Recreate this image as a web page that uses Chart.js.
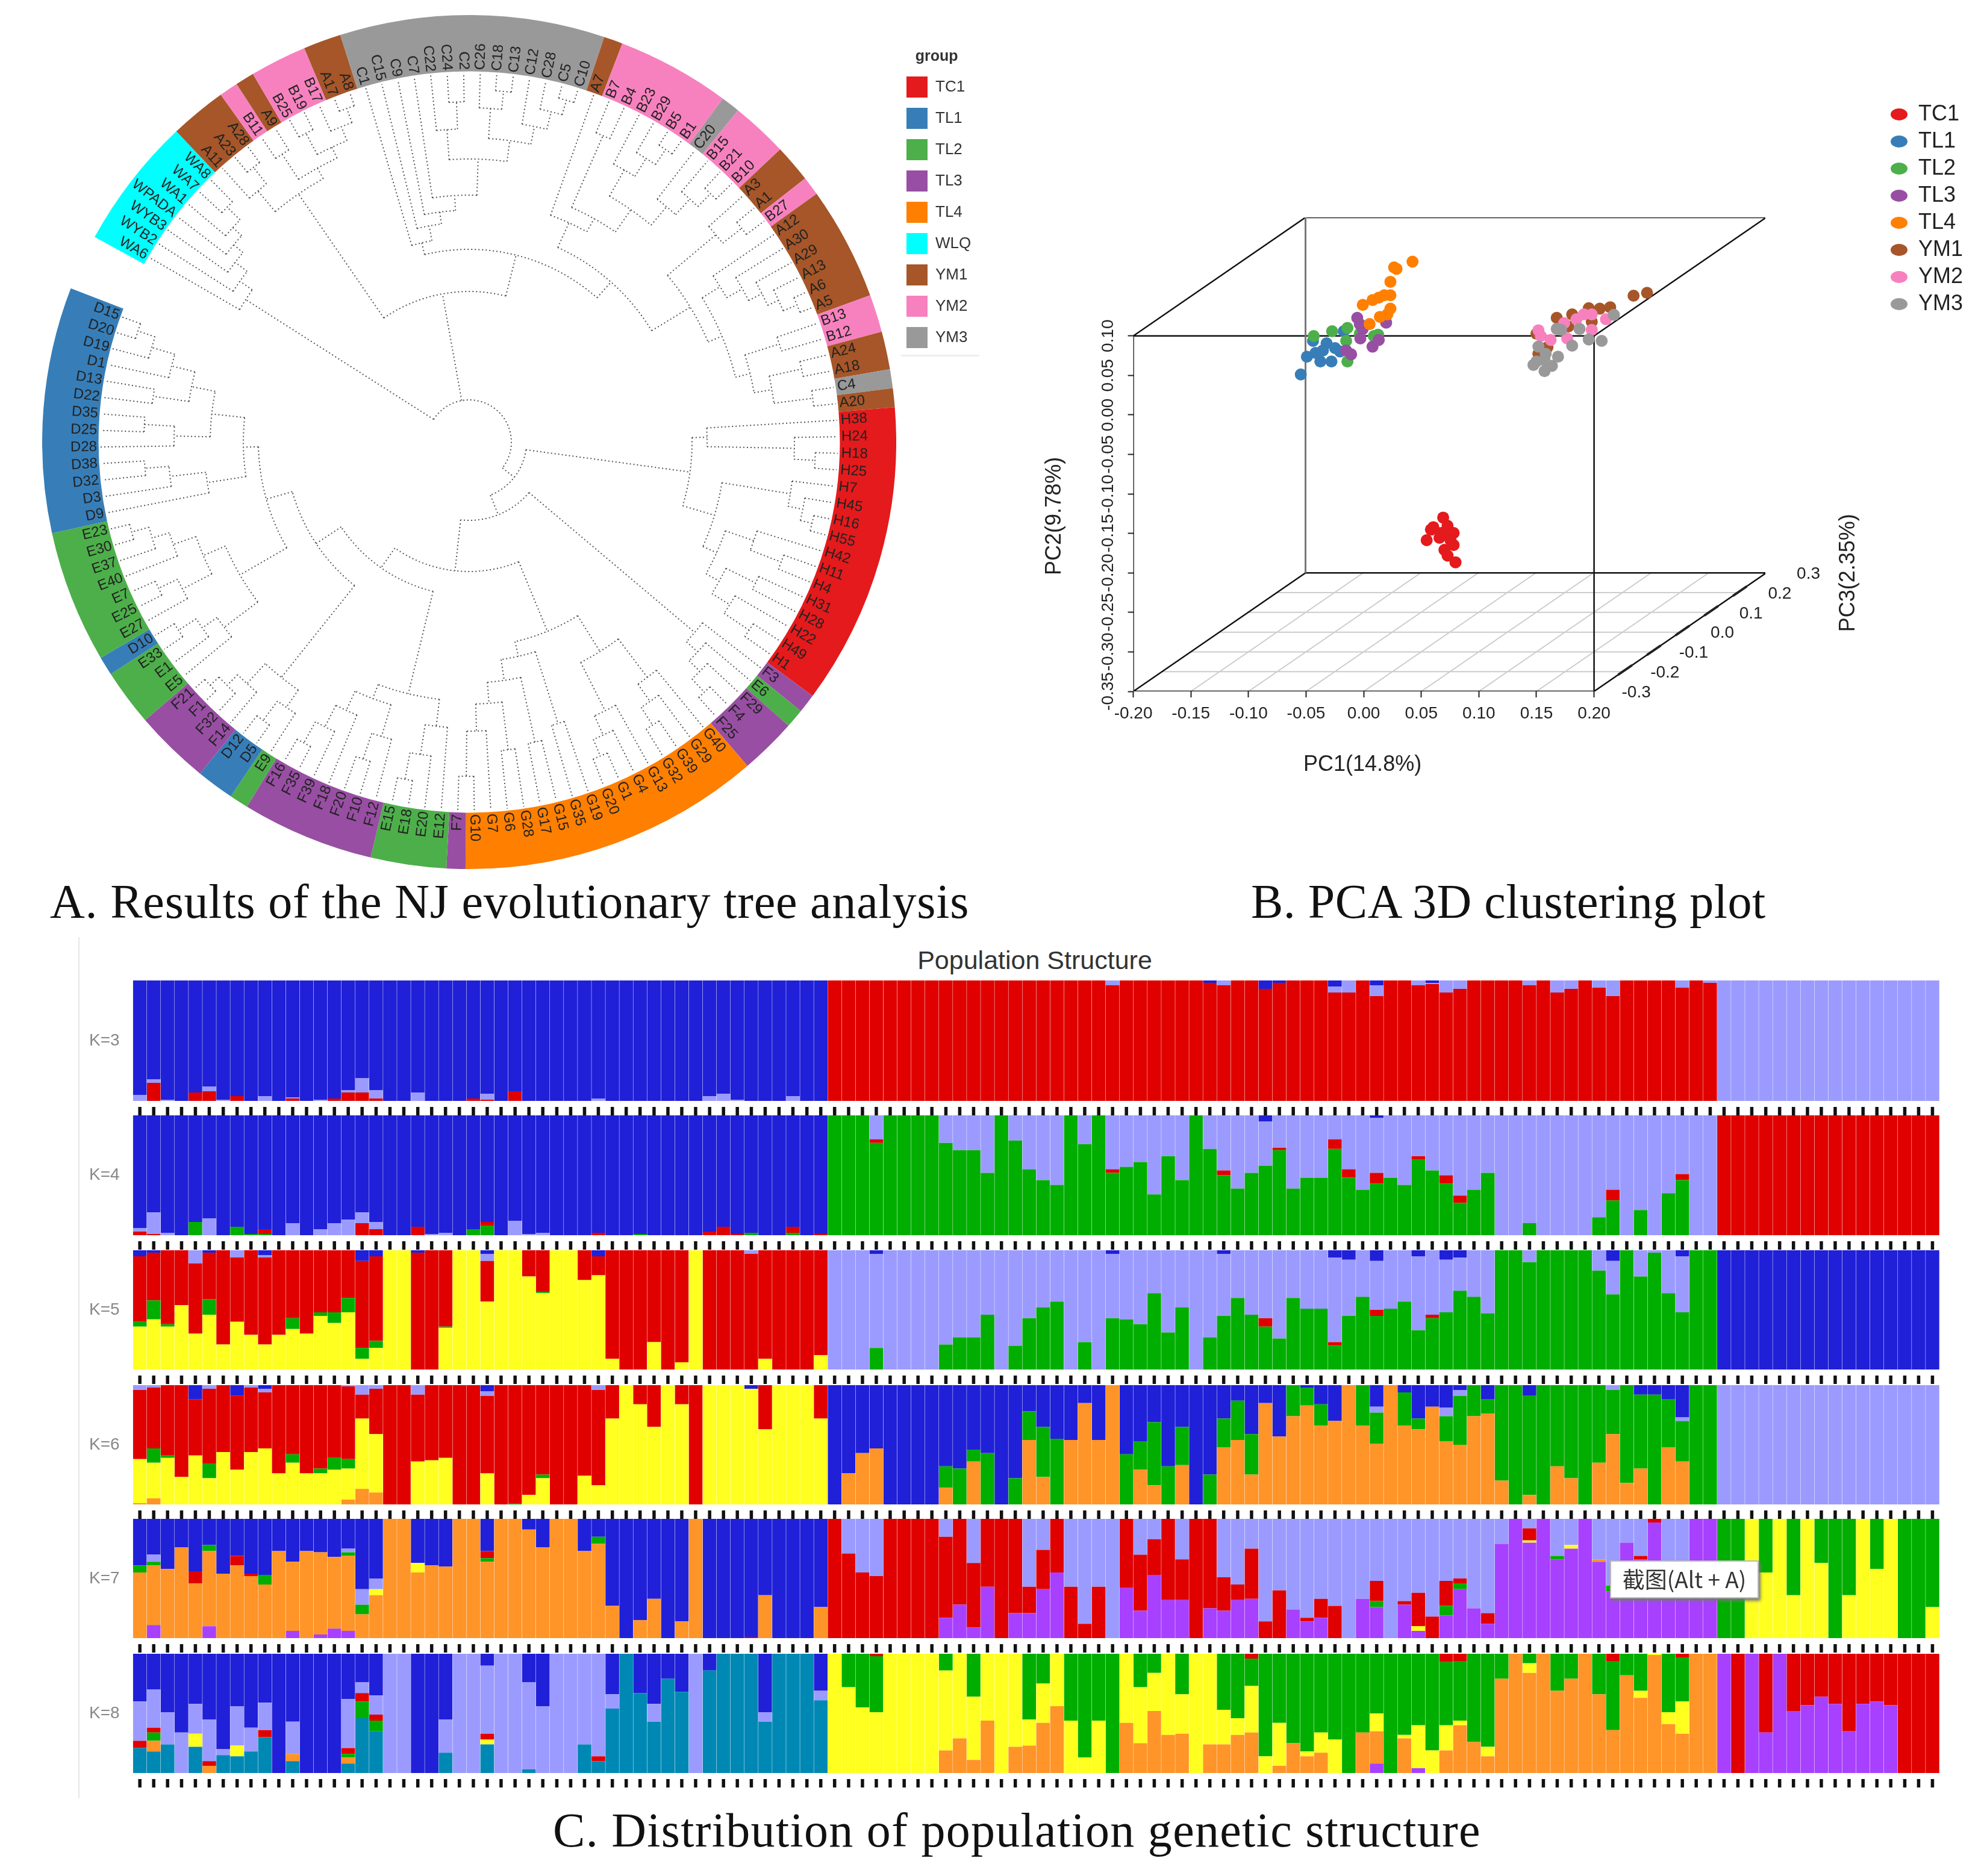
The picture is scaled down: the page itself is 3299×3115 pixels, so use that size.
<!DOCTYPE html>
<html lang="en">
<head>
<meta charset="UTF-8">
<title>NJ tree, PCA and population structure</title>
<script src="https://cdn.jsdelivr.net/npm/chart.js"></script>
<style>
    body { margin: 0; background: #fff; }
    #page { position: relative; width: 3299px; height: 3115px; overflow: hidden; background: #fff; }
    canvas { position: absolute; }
    .cap { position: absolute; font-family: "Liberation Serif", serif; font-size: 80px; color: #111; white-space: nowrap; line-height: 80px; }
    #structTitle { position: absolute; left: 1518px; top: 1570px; width: 400px; text-align: center; font: 43px "Liberation Sans", sans-serif; color: #333; white-space: nowrap; }
    #leftRule { position: absolute; left: 130px; top: 1556px; width: 2px; height: 1430px; background: #e6e6e6; }
    #legendRule { position: absolute; left: 1496px; top: 589px; width: 130px; height: 3px; background: #eee; }
    #shot { position: absolute; left: 2673px; top: 2591px; width: 247px; height: 63px; box-sizing: border-box; background: #fff; border: 2px solid #bbb; box-shadow: 3px 4px 5px #777; font: 37px "Noto Sans CJK SC", sans-serif; color: #333; text-align: center; line-height: 56px; white-space: nowrap; }
</style>
</head>
<body>
<div id="page">
    <div class="cap" style="left:83px;top:1457px;letter-spacing:.8px">A. Results of the NJ evolutionary tree analysis</div>
    <div class="cap" style="left:2077px;top:1457px;letter-spacing:.5px">B. PCA 3D clustering plot</div>
    <div class="cap" style="left:918px;top:2999px;letter-spacing:1.3px">C. Distribution of population genetic structure</div>
    <div id="structTitle">Population Structure</div>
    <div id="leftRule"></div>
    <div id="legendRule"></div>
</div>
<script>
const z = n => Array(n).fill(0);

// ---------- A: NJ tree ----------
const groupNames = ['TC1', 'TL1', 'TL2', 'TL3', 'TL4', 'WLQ', 'YM1', 'YM2', 'YM3'];
const groupColors = ['#E41A1C', '#377EB8', '#4DAF4A', '#984EA3', '#FF7F00', '#00FFFF', '#A65628', '#F781BF', '#999999'];

// tips clockwise, starting after the gap
const tipLabels = ['WA6','WYB2','WYB3','WPADA','WA1','WA7','WA8','A11','A23','A28','B11','A9','B25','B19','B17','A17','A8',
    'C1','C15','C9','C7','C22','C24','C2','C26','C18','C13','C12','C28','C5','C10','A7','B7','B4','B23','B29','B5','B1','C20',
    'B15','B21','B10','A3','A1','B27','A12','A30','A29','A13','A6','A5','B13','B12','A24','A18','C4','A20',
    'H38','H24','H18','H25','H7','H45','H16','H55','H42','H11','H4','H31','H28','H22','H49','H1','F3','E6','F29','F4','F25',
    'G40','G29','G39','G32','G13','G4','G1','G20','G19','G35','G15','G17','G28','G6','G7','G10','F7','E12','E20','E18','E15',
    'F12','F10','F20','F18','F39','F35','F16','E9','D5','D12','F14','F32','F1','F21','E5','E1','E33','D10','E27','E25','E7',
    'E40','E37','E30','E23','D9','D3','D32','D38','D28','D25','D35','D22','D13','D1','D19','D20','D15'];
const tipGroups = ['WLQ','WLQ','WLQ','WLQ','WLQ','WLQ','WLQ','YM1','YM1','YM1','YM2','YM1','YM2','YM2','YM2','YM1','YM1',
    ...Array(14).fill('YM3'),'YM1',...Array(6).fill('YM2'),'YM3','YM2','YM2','YM2','YM1','YM1','YM2',...Array(6).fill('YM1'),
    'YM2','YM2','YM1','YM1','YM3','YM1',...Array(16).fill('TC1'),'TL3','TL2','TL3','TL3','TL3',...Array(16).fill('TL4'),
    'TL3','TL2','TL2','TL2','TL2',...Array(7).fill('TL3'),'TL2','TL1','TL1','TL3','TL3','TL3','TL3','TL2','TL2','TL2','TL1',
    ...Array(7).fill('TL2'),...Array(13).fill('TL1')];

// clades: first tip, last tip, branch radius
const treeClades = [[0,136,70],[0,6,440],[1,6,465],[2,6,490],[3,6,510],[4,6,530],[5,6,560],
    [7,56,250],[7,16,500],[7,9,545],[8,9,580],[10,16,520],[10,11,570],[12,16,540],[12,13,580],[14,16,565],[15,16,590],
    [17,56,320],[17,30,340],[18,30,365],[19,30,385],[20,30,410],[21,30,470],[21,23,520],[22,23,565],[24,30,505],[24,26,555],[25,26,585],[27,30,535],[28,30,565],[29,30,590],
    [31,56,355],[31,41,400],[32,41,425],[32,33,555],[34,41,470],[34,37,520],[35,37,555],[36,37,585],[38,41,510],[39,41,545],[40,41,575],
    [42,56,430],[42,44,535],[43,44,575],[45,56,455],[45,50,490],[46,50,520],[47,50,545],[48,50,565],[49,50,590],[51,56,480],[51,52,540],[53,56,510],[53,54,565],[55,56,575],
    [57,136,95],[57,72,370],[57,60,395],[58,60,540],[59,60,575],[61,72,425],[61,64,540],[62,64,565],[63,64,585],[65,72,450],[65,67,500],[66,67,555],[68,72,475],[68,69,530],[70,72,510],[71,72,560],
    [73,136,130],[73,77,490],[74,77,515],[75,77,540],[76,77,570],
    [78,136,215],[78,94,340],[78,85,410],[78,81,490],[79,81,525],[80,81,560],[82,85,500],[83,85,535],[84,85,565],[86,94,365],[86,87,490],[88,94,400],[88,89,510],[90,94,435],[90,91,515],[92,94,480],[93,94,555],
    [95,136,255],[95,105,430],[95,98,475],[96,98,525],[97,98,570],[99,105,455],[99,101,510],[100,101,555],[102,105,490],[103,105,530],[104,105,570],
    [106,136,305],[106,112,500],[106,108,535],[107,108,575],[109,112,545],[110,112,570],[111,112,590],
    [113,136,350],[113,123,440],[113,116,510],[114,116,540],[115,116,575],[117,123,480],[117,119,535],[118,119,570],[120,123,520],[121,123,550],[122,123,580],
    [124,136,375],[124,127,440],[125,127,500],[126,127,540],[128,136,430],[128,130,490],[129,130,540],[131,136,470],[131,132,530],[133,136,510],[134,136,550],[135,136,580]];

// ---------- B: PCA, values as plotted on the front face of the box ----------
const pcaNames = ['TC1', 'TL1', 'TL2', 'TL3', 'TL4', 'YM1', 'YM2', 'YM3'];
const pcaColors = ['#E41A1C', '#377EB8', '#4DAF4A', '#984EA3', '#FF7F00', '#A65628', '#F781BF', '#999999'];
const tc1X = [.069,.0605,.0584,.0728,.0781,.0547,.0658,.0728,.0781,.0701,.0728,.0797,.0754,.0674];
const tc1Y = [-.130,-.1422,-.1452,-.1404,-.1495,-.1586,-.1556,-.1525,-.1647,-.1708,-.1781,-.1866,-.1586,-.1495];
const tl1X = [-.0546,-.0493,-.044,-.0354,-.0376,-.028,-.0322,-.0248,-.0205,-.0173,-.0418];
const tl1Y = [.0512,.0737,.0937,.0816,.0676,.0676,.0907,.0846,.0803,.1059,.0785];
const tl2X = [-.0434,-.0274,-.0141,-.0152,.0088,.0125,-.0141,-.0034];
const tl2Y = [.0998,.1059,.1101,.0937,.0998,.1016,.0676,.1028];
const tl3X = [-.0056,-.0034,-.0008,-.0029,.0195,.0077,.0131,-.0109,-.0152];
const tl3Y = [.1229,.115,.1089,.0968,.1168,.0864,.0949,.0767,.0816];
const tl4X = [.0424,.0264,.0285,.0232,.0232,.0179,.0131,.0077,-.0008,.0232,.0205,.0141,.0051];
const tl4Y = [.194,.1867,.1849,.1685,.1515,.1515,.1484,.1454,.1393,.1345,.1272,.1241,.115];
const ym1X = [.246,.2343,.214,.205,.1954,.181,.1676,.1778,.198,.15,.1596,.1517];
const ym1Y = [.1545,.1509,.1363,.1345,.1351,.1272,.1229,.112,.118,.1028,.0858,.0773];
const ym2X = [.1517,.1538,.1623,.174,.1767,.1847,.1911,.198,.198,.2103];
const ym2Y = [.1071,.0998,.0949,.1162,.0968,.1211,.1272,.1272,.1077,.1211];
const ym3X = [.2172,.2066,.1954,.181,.1874,.1714,.1676,.1517,.158,.1687,.1474,.157,.1634,.157,.15];
const ym3Y = [.1266,.0937,.0955,.0876,.1089,.1077,.1089,.0864,.0773,.0737,.0633,.0694,.0621,.0554,.0676];
const pc1Ticks = [-.2,-.15,-.1,-.05,0,.05,.1,.15,.2];
const pc3Ticks = [-.3,-.2,-.1,0,.1,.2,.3];

// ---------- C: structure, percent of each bar; the empty part of a bar goes to the group's main colour ----------
const groupSizes = [50, 64, 16];
const barLabels = Array(130).fill('|');
const blue = '#2020D8', red = '#E00000', light = '#9B9BFF', green = '#00AE00', yellow = '#FFFF20', orange = '#FF9428', purple = '#A840FF', teal = '#0088B4';

const k3Red = [0,15,0,0,7,8,0,4,0,0,0,2,0,0,2,7,7,2,0,0,0,0,0,0,2,1,0,8];
const k3Light = [5,3,1,0,0,4,1,0,0,4,0,1,0,1,0,2,12,7,0,0,7,0,0,0,0,5,...z(7),2,...z(7),4,6,1,0,0,0,4,0,0,
    ...z(20),4,...z(7),4,...z(7),5,10,0,9,0,0,4,1,10,7,...z(4),4,0,10,7,0,6,13,...z(4),6,0,2];
const k3Blue = [...z(50),...z(27),2,...z(3),7,2,...z(3),5,0,0,4,0,0,0,2];

const k4Green = [...z(4),11,0,0,7,1,1,...z(14),5,8,...z(10),1,...z(7),2,0,0,2,0,0,
    100,100,100,77,100,100,100,100,77,71,
    71,52,100,79,55,46,42,100,76,100,
    52,57,61,34,66,46,100,72,50,39,
    52,58,71,39,48,48,72,48,38,43,
    48,42,63,54,43,27,38,52,0,0,
    10,0,0,0,0,15,29,0,21,0,35,46,0,0];
const k4Red = [3,1,...z(7),4,...z(6),10,5,0,0,7,...z(4),3,...z(7),2,...z(7),3,7,1,0,0,0,5,0,1,
    ...z(3),3,...z(16),3,...z(7),4,...z(3),2,...z(3),8,7,0,9,0,0,3,0,7,6,...z(10),9,...z(4),5];
const k4Light = [3,18,2,0,0,14,...z(5),10,0,5,10,13,9,6,...z(3),1,2,...z(4),12,1,2];
const k4Blue = [...z(50),...z(31),5,...z(7),2];

const k5Yellow = [36,42,36,54,30,46,21,40,29,21,
    29,34,30,45,39,48,9,18,100,100,
    0,0,35,100,100,57,100,100,78,64,
    100,100,75,79,9,0,0,23,0,6,
    100,0,0,0,0,9,0,0,0,12];
const k5Green = [4,16,2,0,0,13,...z(5),9,0,3,9,12,9,6,...z(4),1,...z(6),1,...z(20),
    0,0,0,18,0,0,0,0,21,27,
    27,46,0,20,43,52,57,0,23,0,
    43,42,38,64,31,52,0,27,45,60,
    46,36,26,60,51,51,20,45,61,45,
    51,57,33,43,48,66,61,47,100,100,
    90,100,100,100,100,83,63,100,78,98,64,48,100,100];
const k5Red = [...z(50),...z(31),7,...z(4),3,0,0,5,...z(3),3];
const k5Light = [...z(4),11,0,0,6,0,2,...z(15),6,...z(18),3];
const k5Blue = [5,2,0,0,0,2,0,0,0,4,...z(6),9,5,0,0,2,...z(4),3,...z(7),5,...z(16),
    ...z(3),3,...z(16),3,...z(7),3,...z(7),6,8,0,9,0,0,5,0,8,6,...z(10),9,...z(4),5];

const k6Orange = [1,5,...z(13),4,13,10,...z(32),
    0,26,43,47,0,0,0,0,14,0,
    36,0,0,0,54,23,0,54,85,54,
    100,0,29,16,0,33,0,0,48,54,
    25,85,57,74,83,66,70,100,66,51,
    100,66,63,82,53,50,74,76,20,0,
    8,0,32,22,0,35,59,18,30,0,48,36,0,0];
const k6Yellow = [37,30,39,23,41,22,44,29,44,47,
    26,35,26,26,29,26,59,49,0,0,
    36,37,39,0,0,26,0,0,8,22,
    0,0,24,16,72,100,84,65,100,84,
    0,100,100,100,97,63,100,100,100,72];
const k6Green = [0,12,2,0,0,12,...z(5),7,0,4,10,8,...z(11),1,0,3,...z(20),
    ...z(8),18,30,
    10,43,0,22,24,42,55,0,0,0,
    0,42,24,53,32,32,0,25,24,33,
    34,0,0,26,15,18,0,0,34,26,
    0,28,9,0,21,41,26,12,80,100,
    83,100,68,78,100,65,37,82,62,92,40,34,100,100];
const k6Red = [];
const k6Light = [4,2,0,0,0,3,0,0,2,3,...z(5),1,8,3,0,0,8,...z(4),4,...z(7),4,...z(16),
    ...z(39),5,...z(4),7,5,...z(10),4,...z(4),3];
const k6Blue = [...z(4),12,0,0,9,0,3,...z(15),5,...z(18),3];

const k7Purple = [0,11,0,0,0,10,...z(5),6,0,3,8,6,...z(34),
    ...z(8),17,28,
    9,43,0,21,21,41,55,0,0,0,
    0,42,23,53,32,32,0,25,23,32,
    33,0,0,24,14,17,0,0,33,26,
    0,28,6,0,19,41,25,12,79,100,
    80,100,66,75,100,64,39,80,66,97,60,60,100,100];
const k7Orange = [55,50,58,76,46,63,54,61,52,45,
    73,58,73,69,60,63,20,36,100,100,
    55,61,60,100,100,64,100,100,91,76,
    100,100,73,79,27,0,15,33,0,14,
    100,0,0,0,0,36,0,0,0,26,
    ...z(55),2];
const k7Yellow = [...z(17),5,0,0,8,...z(29),
    ...z(42),4,...z(7),2,0,0,3,...z(10),
    0,0,100,55,100,36,100,63,0,36,100,58,100,0,0,26];
const k7Green = [6,3,0,0,0,5,0,0,0,8,...z(5),3,8,...z(8),3,...z(7),6,...z(16),
    ...z(39),5,...z(4),8,5,...z(6),3,...z(3),5];
const k7Red = [...z(4),10,0,0,8,2,...z(16),6,...z(18),1,...z(5),
    100,71,55,52,100,100,100,100,68,72,
    54,57,100,79,22,33,45,43,12,43,
    0,58,47,30,68,34,100,75,28,13,
    42,14,40,0,3,16,27,0,0,17,
    0,3,28,18,21,4,0,9,0,0,
    10,0,0,0,0,0,0,0,3,3];
const k7Light = [0,6,...z(13),3,13,9];
const k7Blue = [];

const k8Teal = [21,18,24,0,22,0,15,14,18,30,
    0,10,0,0,0,8,46,35,0,0,
    0,0,17,0,0,24,0,0,3,0,
    0,0,24,10,54,100,67,43,79,68,
    0,86,100,100,100,43,100,100,100,61];
const k8Purple = [...z(50),...z(39),8,0,0,4,...z(21),
    100,0,100,34,100,52,57,64,58,35,58,60,57,0,0,0];
const k8Orange = [0,9,0,0,0,6,...z(5),6,...z(3),5,...z(34),
    ...z(8),19,29,
    11,44,0,22,23,42,56,0,0,0,
    0,42,25,52,32,33,0,24,24,32,
    34,0,6,25,14,17,0,0,34,27,
    0,29,0,0,19,40,26,14,79,100,
    84,100,69,79,100,66,36,82,63,99,41,33,100,100];
const k8Yellow = [...z(4),11,0,0,9,...z(17),4,...z(24),
    100,72,55,51,100,100,100,100,67,71,
    53,56,100,78,22,33,44,44,13,44,
    0,58,47,32,68,33,100,76,29,14,
    39,14,36,0,4,17,28,0,0,15,
    0,3,36,19,21,4,0,8,0,0,
    8,0,0,0,0,0,0,0,6,1,10,27,0,0];
const k8Green = [0,7,...z(13),3,14,9];
const k8Red = [6,4,0,0,0,4,0,0,0,6,...z(5),5,7,5,...z(7),5,...z(7),4,...z(16),
    ...z(3),2,...z(26),4,...z(13),7,6,...z(10),6,...z(4),3];
const k8Light = [33,32,27,34,25,35,5,33,20,23,
    0,27,0,0,0,41,9,16,100,100,
    0,0,28,100,100,57,100,100,73,56,
    100,100,76,86,12,0,0,15,0,0,
    100,0,0,0,0,8,0,0,0,8];
const k8Blue = [];

const kLabels = ['K=3', 'K=4', 'K=5', 'K=6', 'K=7', 'K=8'];
const kSeries = [
    [k3Red, k3Light, k3Blue],
    [k4Green, k4Red, k4Light, k4Blue],
    [k5Yellow, k5Green, k5Red, k5Light, k5Blue],
    [k6Orange, k6Yellow, k6Green, k6Red, k6Light, k6Blue],
    [k7Purple, k7Orange, k7Yellow, k7Green, k7Red, k7Light, k7Blue],
    [k8Teal, k8Purple, k8Orange, k8Yellow, k8Green, k8Red, k8Light, k8Blue]
];
const kColors = [
    [red, light, blue],
    [green, red, light, blue],
    [yellow, green, red, light, blue],
    [orange, yellow, green, red, light, blue],
    [purple, orange, yellow, green, red, light, blue],
    [teal, purple, orange, yellow, green, red, light, blue]
];
// index into kSeries of the colour that fills each of the three groups
const kFill = [[2, 0, 1], [3, 2, 1], [2, 3, 4], [3, 5, 4], [6, 5, 3], [7, 4, 5]];
const kTops = [1628, 1852, 2076, 2300, 2522, 2746];
const kBottoms = [1828, 2051, 2274, 2498, 2720, 2944];

// ---------- helpers ----------
Chart.defaults.animation = false;
Chart.defaults.responsive = false;
Chart.defaults.devicePixelRatio = 1;
Chart.defaults.font.family = '"Liberation Sans", sans-serif';
Chart.defaults.plugins.tooltip.enabled = false;
Chart.defaults.plugins.legend.display = false;
const page = document.getElementById('page');

function addCanvas(left, top, w, h) {
    const c = document.createElement('canvas');
    c.width = w; c.height = h;
    c.style.left = left + 'px'; c.style.top = top + 'px';
    page.appendChild(c);
    return c.getContext('2d');
}
// fixed axis size, so the plot area lands where it should
function fixAxis(s, size) {
    if (s.isHorizontal()) s.height = size; else s.width = size;
    s.paddingTop = s.paddingBottom = s.paddingLeft = s.paddingRight = 0;
}

// ---------- A: ring ----------
const ringStart = 298.7, ringSweep = 352.4;
const tipStep = ringSweep / tipLabels.length;
const runSizes = [], runColors = [];
tipGroups.forEach((g, i) => {
    if (i > 0 && tipGroups[i - 1] === g) runSizes[runSizes.length - 1]++;
    else { runSizes.push(1); runColors.push(groupColors[groupNames.indexOf(g)]); }
});
new Chart(addCanvas(70, 25, 1418, 1418), {
    type: 'doughnut',
    data: { datasets: [{ data: runSizes, backgroundColor: runColors, borderWidth: 0 }] },
    options: { cutout: '86.8%', rotation: ringStart, circumference: ringSweep, layout: { padding: 0 } }
});

// ---------- A: tree ----------
const tipTheta = i => ringStart + (i + 0.5) * tipStep;
const polar = (r, deg) => ({ x: r * Math.sin(deg * Math.PI / 180), y: r * Math.cos(deg * Math.PI / 180) });
const tipR = 612;
const treeNodes = treeClades.map(c => ({ first: c[0], last: c[1], r: c[2], kids: [] }));
treeNodes.sort((a, b) => (b.last - b.first) - (a.last - a.first));
treeNodes.forEach((n, idx) => {
    for (let j = idx - 1; j >= 0; j--) {
        if (treeNodes[j].first <= n.first && treeNodes[j].last >= n.last) { treeNodes[j].kids.push(n); break; }
    }
});
const treePoints = [];
function layoutNode(node) {
    const children = [];
    let t = node.first;
    const kids = node.kids.slice().sort((a, b) => a.first - b.first);
    kids.forEach(k => {
        while (t < k.first) { children.push({ r: tipR, theta: tipTheta(t) }); t++; }
        layoutNode(k);
        children.push({ r: k.r, theta: k.theta });
        t = k.last + 1;
    });
    while (t <= node.last) { children.push({ r: tipR, theta: tipTheta(t) }); t++; }
    const a = children[0].theta, b = children[children.length - 1].theta;
    node.theta = (a + b) / 2;
    children.forEach(c => {
        treePoints.push(polar(node.r, c.theta), polar(c.r, c.theta), { x: null, y: null });
    });
    for (let d = a; d < b; d += 1.5) treePoints.push(polar(node.r, d));
    treePoints.push(polar(node.r, b), { x: null, y: null });
}
layoutNode(treeNodes[0]);

const tipTextPlugin = {
    id: 'tipText',
    afterDatasetsDraw(chart) {
        const { ctx, scales } = chart;
        ctx.save();
        ctx.font = '24px "Liberation Sans", sans-serif';
        ctx.fillStyle = '#222';
        ctx.textBaseline = 'middle';
        tipLabels.forEach((label, i) => {
            const theta = tipTheta(i) % 360;
            const p = polar(618, theta);
            ctx.save();
            ctx.translate(scales.x.getPixelForValue(p.x), scales.y.getPixelForValue(p.y));
            if (theta < 180) { ctx.rotate((theta - 90) * Math.PI / 180); ctx.textAlign = 'left'; }
            else { ctx.rotate((theta + 90) * Math.PI / 180); ctx.textAlign = 'right'; }
            ctx.fillText(label, 0, 0);
            ctx.restore();
        });
        ctx.restore();
    }
};
new Chart(addCanvas(70, 25, 1418, 1418), {
    type: 'scatter',
    data: { datasets: [{ data: treePoints, showLine: true, pointRadius: 0, borderColor: '#555', borderWidth: 2, borderDash: [2, 4], spanGaps: false, fill: false }] },
    options: {
        layout: { padding: 0, autoPadding: false },
        scales: {
            x: { type: 'linear', display: false, min: -709, max: 709 },
            y: { type: 'linear', display: false, min: -709, max: 709 }
        }
    },
    plugins: [tipTextPlugin]
});

// legend A
new Chart(addCanvas(1488, 60, 200, 600), {
    type: 'bar',
    data: { labels: [], datasets: groupNames.map((n, i) => ({ label: n, data: [], backgroundColor: groupColors[i], borderWidth: 0 })) },
    options: {
        scales: { x: { display: false }, y: { display: false } },
        plugins: {
            legend: {
                display: true, position: 'left', align: 'start', maxWidth: 200,
                title: { display: true, text: 'group', position: 'center', color: '#333', font: { size: 25, weight: 'bold' }, padding: { top: 22, bottom: -2 } },
                labels: { boxWidth: 35, boxHeight: 35, padding: 17, color: '#333', font: { size: 26 } }
            }
        }
    }
});

// ---------- B: PCA ----------
const depthX = 0.1495, depthY = 0.15;
const project = (pc1, pc2, pc3) => ({ x: pc1 + (pc3 + 0.3) / 0.6 * depthX, y: pc2 + (pc3 + 0.3) / 0.6 * depthY });
const seg = (a, b) => [project(a[0], a[1], a[2]), project(b[0], b[1], b[2]), { x: null, y: null }];
const lo = -0.35, hi = 0.10;
const floorLines = [];
pc1Ticks.slice(1, -1).forEach(v => floorLines.push(...seg([v, lo, -.3], [v, lo, .3])));
pc3Ticks.slice(1, -1).forEach(v => floorLines.push(...seg([-.2, lo, v], [.2, lo, v])));
const blackBox = [
    ...seg([-.2, lo, -.3], [.2, lo, -.3]), ...seg([-.2, hi, -.3], [.2, hi, -.3]),
    ...seg([-.2, lo, -.3], [-.2, hi, -.3]), ...seg([.2, lo, -.3], [.2, hi, -.3]),
    ...seg([-.2, hi, .3], [.2, hi, .3]), ...seg([.2, lo, .3], [.2, hi, .3]), ...seg([-.2, lo, .3], [.2, lo, .3]),
    ...seg([-.2, lo, -.3], [-.2, lo, .3]), ...seg([.2, lo, -.3], [.2, lo, .3]),
    ...seg([-.2, hi, -.3], [-.2, hi, .3]), ...seg([.2, hi, -.3], [.2, hi, .3])
];
const grayEdge = seg([-.2, lo, .3], [-.2, hi, .3]);
const zTickMarks = [];
pc3Ticks.slice(1, -1).forEach(v => {
    const a = project(.2, lo, v);
    zTickMarks.push({ x: a.x - .004, y: a.y - .004 }, { x: a.x + .008, y: a.y + .008 }, { x: null, y: null });
});
const lineSet = (data, color, width) => ({ data, showLine: true, pointRadius: 0, borderColor: color, borderWidth: width, fill: false, spanGaps: false });
const pcaX = [tc1X, tl1X, tl2X, tl3X, tl4X, ym1X, ym2X, ym3X];
const pcaY = [tc1Y, tl1Y, tl2Y, tl3Y, tl4Y, ym1Y, ym2Y, ym3Y];
const pointSets = pcaX.map((xs, g) => ({
    data: xs.map((x, i) => ({ x, y: pcaY[g][i] })),
    pointRadius: 10, pointBackgroundColor: pcaColors[g], pointBorderWidth: 0, showLine: false
})).reverse();

const pcaTextPlugin = {
    id: 'pcaText',
    afterDatasetsDraw(chart) {
        const { ctx, scales } = chart;
        const px = v => scales.x.getPixelForValue(v), py = v => scales.y.getPixelForValue(v);
        ctx.save();
        ctx.fillStyle = '#222';
        ctx.textAlign = 'center';
        ctx.textBaseline = 'middle';
        ctx.font = '28px "Liberation Sans", sans-serif';
        pc3Ticks.forEach(v => {
            const p = project(.2, lo, v);
            ctx.fillText(v === 0 ? '0.0' : String(v.toFixed(1)), px(p.x) + 70, py(p.y) + 2);
        });
        ctx.font = '36px "Liberation Sans", sans-serif';
        ctx.fillText('PC1(14.8%)', px(0) - 2, py(lo) + 122);
        ctx.save();
        ctx.translate(px(-.2) - 131, py(-.125) + 4);
        ctx.rotate(-Math.PI / 2);
        ctx.fillText('PC2(9.78%)', 0, 0);
        ctx.restore();
        ctx.save();
        ctx.translate(px(.2) + 422, py(-.2));
        ctx.rotate(-Math.PI / 2);
        ctx.fillText('PC3(2.35%)', 0, 0);
        ctx.restore();
        ctx.restore();
    }
};
new Chart(addCanvas(1700, 351, 1420, 960), {
    type: 'scatter',
    data: { datasets: [...pointSets, lineSet(zTickMarks, '#222', 4), lineSet(grayEdge, '#777', 3), lineSet(blackBox, '#111', 2.5), lineSet(floorLines, '#ccc', 2)] },
    options: {
        layout: { padding: { top: 10, right: 189 }, autoPadding: false },
        scales: {
            x: {
                type: 'linear', min: -.2, max: .3487, border: { display: false }, grid: { drawOnChartArea: false, tickLength: 10, tickColor: '#222', tickWidth: 2 },
                afterBuildTicks: s => { s.ticks = pc1Ticks.map(value => ({ value })); },
                afterFit: s => fixAxis(s, 163),
                ticks: { autoSkip: false, maxRotation: 0, padding: 10, color: '#222', font: { size: 28 }, callback: v => v.toFixed(2) }
            },
            y: {
                type: 'linear', min: -.35, max: .25, border: { display: false }, grid: { drawOnChartArea: false, tickLength: 9, tickColor: '#222', tickWidth: 2 },
                afterBuildTicks: s => { s.ticks = [-.35, -.3, -.25, -.2, -.15, -.1, -.05, 0, .05, .1].map(value => ({ value })); },
                afterFit: s => fixAxis(s, 181.6),
                ticks: { autoSkip: false, minRotation: 90, maxRotation: 90, crossAlign: 'center', padding: 0, color: '#222', font: { size: 28 }, callback: v => v.toFixed(2) }
            }
        }
    },
    plugins: [pcaTextPlugin]
});

// legend B
new Chart(addCanvas(3130, 163, 169, 420), {
    type: 'bar',
    data: { labels: [], datasets: pcaNames.map((n, i) => ({ label: n, data: [], backgroundColor: pcaColors[i], borderWidth: 0 })) },
    options: {
        scales: { x: { display: false }, y: { display: false } },
        plugins: {
            legend: {
                display: true, position: 'left', align: 'start', maxWidth: 169,
                labels: { usePointStyle: true, pointStyle: 'circle', boxHeight: 14, boxWidth: 14, pointStyleWidth: 28, padding: 9, color: '#222', font: { size: 36 } }
            }
        }
    }
});

// ---------- C: structure bars ----------
function closeStack(row) {
    const series = kSeries[row].map(s => barLabels.map((_, i) => s[i] || 0));
    let bar = 0;
    groupSizes.forEach((size, g) => {
        for (let n = 0; n < size; n++, bar++) {
            const used = series.reduce((sum, s) => sum + s[bar], 0);
            series[kFill[row][g]][bar] += Math.max(0, 100 - used);
        }
    });
    return series;
}
kLabels.forEach((label, row) => {
    const top = kTops[row], h = kBottoms[row] - top;
    const series = closeStack(row);
    new Chart(addCanvas(100, top, 3120, h + 24), {
        type: 'bar',
        data: {
            labels: barLabels,
            datasets: series.map((data, s) => ({ data, backgroundColor: kColors[row][s], borderWidth: 0, barPercentage: 0.98, categoryPercentage: 1 }))
        },
        options: {
            layout: { padding: 0, autoPadding: false },
            scales: {
                x: {
                    stacked: true, grid: { display: false }, border: { display: false },
                    afterFit: s => fixAxis(s, 24),
                    ticks: { autoSkip: false, maxRotation: 0, padding: 2, color: '#111', textStrokeColor: '#111', textStrokeWidth: 4, font: { size: 12, weight: 'bold' } }
                },
                y: {
                    stacked: true, min: 0, max: 100, grid: { display: false }, border: { display: false },
                    afterBuildTicks: s => { s.ticks = [{ value: 50 }]; },
                    afterFit: s => fixAxis(s, 120.6),
                    ticks: { padding: 14, color: '#888', font: { size: 28 }, callback: () => label }
                }
            }
        }
    });
});

const shot = document.createElement('div');
shot.id = 'shot';
shot.textContent = '截图(Alt + A)';
page.appendChild(shot);
</script>
</body>
</html>
